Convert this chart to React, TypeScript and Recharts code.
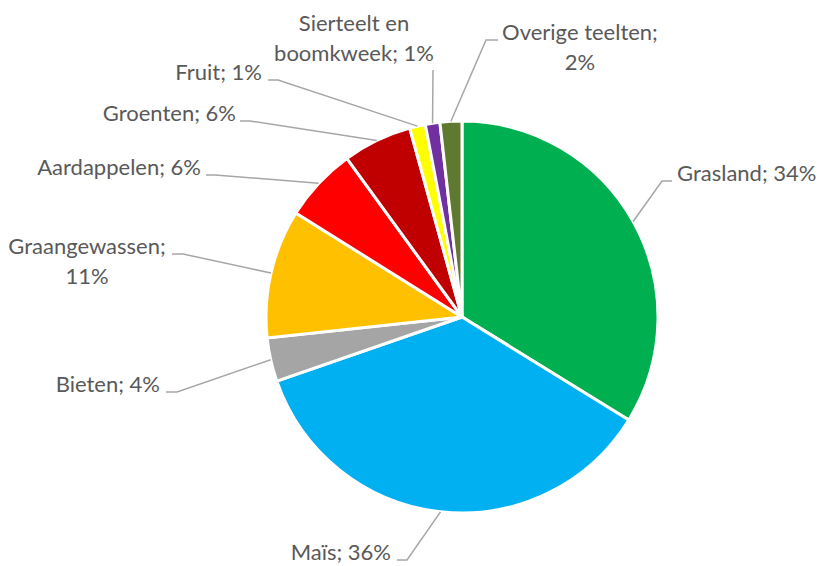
import React from 'react';
import { PieChart, Pie, Cell } from 'recharts';

const categories = ['Grasland', 'Maïs', 'Bieten', 'Graangewassen', 'Aardappelen', 'Groenten', 'Fruit', 'Sierteelt en boomkweek', 'Overige teelten'];
const shares = [33.8, 35.9, 3.6, 10.6, 6.1, 5.7, 1.3, 1.2, 1.8];
const colors = ['#00B050', '#00B0F0', '#A5A5A5', '#FFC000', '#FF0000', '#C00000', '#FFFF00', '#7030A0', '#5F7A30'];

const data = categories.map((name, i) => ({ name, value: shares[i] }));

// label layout offsets relative to pie centre: elbow, line end, text anchor, words on first line
const labelLayout = [
  { ex: 200, ey: -136, lx: 210, ly: -136, tx: 215, ty: -136, anchor: 'start', split: 0 },
  { ex: -55, ey: 243, lx: -65, ly: 243, tx: -71, ty: 243, anchor: 'end', split: 0 },
  { ex: -285, ey: 75, lx: -296, ly: 75, tx: -302, ty: 75, anchor: 'end', split: 0 },
  { ex: -279, ey: -63, lx: -290, ly: -63, tx: -375, ty: -63, anchor: 'middle', split: 1 },
  { ex: -247, ey: -142, lx: -256, ly: -142, tx: -261, ty: -142, anchor: 'end', split: 0 },
  { ex: -212, ey: -196, lx: -222, ly: -196, tx: -226, ty: -196, anchor: 'end', split: 0 },
  { ex: -184, ey: -237, lx: -194, ly: -237, tx: -200, ty: -237, anchor: 'end', split: 0 },
  { ex: -29, ey: -247, lx: -29, ly: -247, tx: -108, ty: -286, anchor: 'middle', split: 2 },
  { ex: 24, ey: -277, lx: 36, ly: -277, tx: 118, ty: -277, anchor: 'middle', split: 2 },
];

const RAD = Math.PI / 180;
const total = shares.reduce((a, b) => a + b, 0);

const renderLabel = (props: any) => {
  const { cx, cy, midAngle, outerRadius, index, name, value } = props;
  const L = labelLayout[index];
  const sx = cx + outerRadius * Math.cos(-midAngle * RAD);
  const sy = cy + outerRadius * Math.sin(-midAngle * RAD);
  const pct = Math.round((value / total) * 100);
  const full = `${name}; ${pct}%`;
  const words = full.split(' ');
  const lines = L.split ? [words.slice(0, L.split).join(' '), words.slice(L.split).join(' ')] : [full];
  return (
    <g key={`lbl-${index}`}>
      <polyline
        points={`${sx},${sy} ${cx + L.ex},${cy + L.ey} ${cx + L.lx},${cy + L.ly}`}
        fill="none"
        stroke="#A6A6A6"
        strokeWidth={1.5}
      />
      <text
        x={cx + L.tx}
        y={cy + L.ty}
        textAnchor={L.anchor}
        fill="#595959"
        fontSize={22}
        fontFamily="Lato, 'Noto Sans', sans-serif"
      >
        {lines.map((t, i) => (
          <tspan key={i} x={cx + L.tx} dy={i === 0 ? 0 : 30}>
            {t}
          </tspan>
        ))}
      </text>
    </g>
  );
};

export default function App() {
  return (
    <div style={{ position: 'absolute', left: 0, top: 0, width: 818, height: 566, background: '#fff' }}>
      <PieChart width={818} height={566} margin={{ top: 0, right: 0, bottom: 0, left: 0 }}>
        <Pie
          data={data}
          dataKey="value"
          nameKey="name"
          cx={462}
          cy={317}
          outerRadius={196}
          startAngle={90}
          endAngle={-270}
          stroke="#FFFFFF"
          strokeWidth={3}
          isAnimationActive={false}
          labelLine={false}
          label={renderLabel}
        >
          {data.map((d, i) => (
            <Cell key={d.name} fill={colors[i]} />
          ))}
        </Pie>
      </PieChart>
    </div>
  );
}
